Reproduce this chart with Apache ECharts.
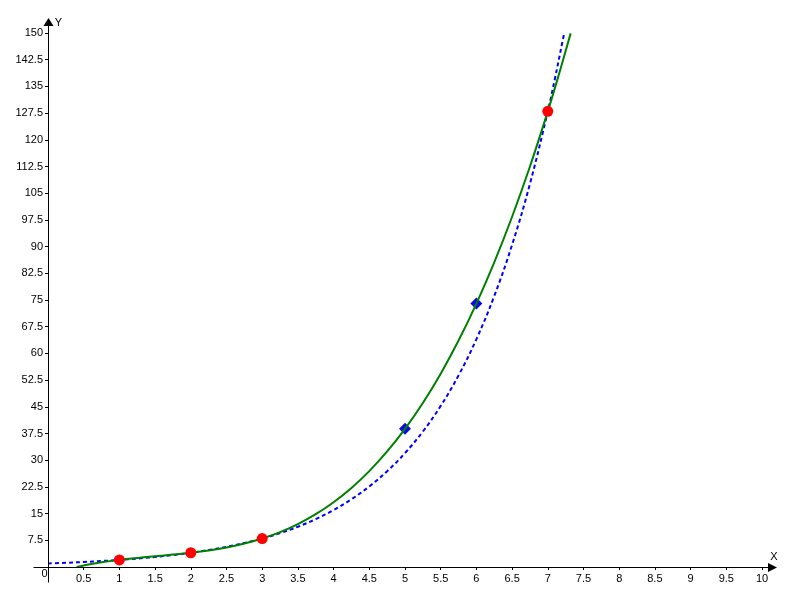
<!DOCTYPE html>
<html><head><meta charset="utf-8">
<script src="https://cdn.jsdelivr.net/npm/echarts@6/dist/echarts.min.js"></script>
<style>html,body{margin:0;padding:0;background:#fff}#c{width:800px;height:600px}</style>
</head><body><div id="c"></div>
<script>
// Red points
const redX = [1, 2, 3, 7];
const redY = [2, 4, 8, 128];
// Blue diamond points
const diamondX = [5, 6];
const diamondY = [38.8, 74];
// Green solid curve samples
const greenX = [0.4, 0.5, 0.75, 1, 1.25, 1.5, 1.75, 2, 2.25, 2.5, 2.75, 3, 3.25, 3.5, 3.75, 4, 4.25, 4.5, 4.75, 5, 5.25, 5.5, 5.75, 6, 6.25, 6.5, 6.75, 7, 7.15, 7.32];
const greenY = [0.01, 0.44, 1.32, 2, 2.54, 3.01, 3.48, 4, 4.65, 5.49, 6.58, 8, 9.8, 12.06, 14.84, 18.2, 22.21, 26.94, 32.45, 38.8, 46.07, 54.31, 63.61, 74, 85.57, 98.39, 112.5, 128, 137.98, 149.9];
// Blue dashed curve samples
const blueX = [0, 0.25, 0.5, 0.75, 1, 1.25, 1.5, 1.75, 2, 2.25, 2.5, 2.75, 3, 3.25, 3.5, 3.75, 4, 4.25, 4.5, 4.75, 5, 5.25, 5.5, 5.75, 6, 6.25, 6.5, 6.75, 7, 7.1, 7.2, 7.23];
const blueY = [1, 1.19, 1.41, 1.68, 2, 2.38, 2.83, 3.36, 4, 4.76, 5.66, 6.73, 8, 9.51, 11.31, 13.45, 16, 19.03, 22.63, 26.91, 32, 38.05, 45.25, 53.82, 64, 76.11, 90.51, 107.63, 128, 137.19, 147.03, 150];
// Axis settings
const xMin = 0, xMax = 10, xStep = 0.5;
const yMin = 0, yMax = 150, yStep = 7.5;

const zip = (a, b) => a.map((v, i) => [v, b[i]]);
const font = "'Liberation Sans', Arial, sans-serif";
const chart = echarts.init(document.getElementById('c'));

const baseX = {type:'value', min:xMin, max:xMax, interval:xStep, splitLine:{show:false}, axisLine:{show:false}};
const baseY = {type:'value', min:yMin, max:yMax, interval:yStep, splitLine:{show:false}, axisLine:{show:false}};

chart.setOption({
  animation:false,
  backgroundColor:'#fff',
  grid:{left:48, right:38, top:33, bottom:33},
  xAxis:[
    Object.assign({}, baseX, {
      axisTick:{show:true, length:3, lineStyle:{color:'#000'}},
      axisLabel:{margin:6, color:'#000', fontSize:11, fontFamily:font, formatter:v => v === 0 ? '' : String(v)}
    }),
    Object.assign({}, baseX, {
      axisTick:{show:true, inside:true, length:3, lineStyle:{color:'#000'}},
      axisLabel:{show:false}
    })
  ],
  yAxis:[
    Object.assign({}, baseY, {
      axisTick:{show:true, length:3, lineStyle:{color:'#000'}},
      axisLabel:{margin:5, color:'#000', fontSize:11, fontFamily:font, formatter:v => v === 0 ? '' : String(v)}
    }),
    Object.assign({}, baseY, {
      axisTick:{show:true, inside:true, length:3, lineStyle:{color:'#000'}},
      axisLabel:{show:false}
    })
  ],
  series:[
    {type:'line', data:zip(blueX, blueY), smooth:0.4, showSymbol:false, z:2,
     lineStyle:{color:'#0000ff', width:2, type:[4,3]}},
    {type:'scatter', data:zip(diamondX, diamondY), symbol:'diamond', symbolSize:12, z:3,
     itemStyle:{color:'#0a0ae6', opacity:1}},
    {type:'line', data:zip(greenX, greenY), smooth:0.4, showSymbol:false, z:4,
     lineStyle:{color:'#008000', width:2}},
    {type:'scatter', data:zip(redX, redY), symbol:'circle', symbolSize:11, z:5,
     itemStyle:{color:'#ff0000', opacity:1}}
  ]
});

const o = chart.convertToPixel({gridIndex:0}, [xMin, yMin]);
const px = chart.convertToPixel({gridIndex:0}, [xMax, yMin]);
const py = chart.convertToPixel({gridIndex:0}, [xMin, yMax]);
const ox = Math.round(o[0]) + 0.5, oy = Math.round(o[1]) + 0.5;
const ex = Math.round(px[0]), ty = Math.round(py[1]);
chart.setOption({
  graphic:[
    {type:'line', shape:{x1:ox-15, y1:oy, x2:ex+8, y2:oy}, style:{stroke:'#000', lineWidth:1}, z:10},
    {type:'polygon', shape:{points:[[ex+6, oy-4.5],[ex+15, oy],[ex+6, oy+4.5]]}, style:{fill:'#000'}, z:10},
    {type:'line', shape:{x1:ox, y1:oy+15, x2:ox, y2:ty-8}, style:{stroke:'#000', lineWidth:1}, z:10},
    {type:'polygon', shape:{points:[[ox-5, ty-7],[ox, ty-15],[ox+5, ty-7]]}, style:{fill:'#000'}, z:10},
    {type:'text', x:ex+12, y:oy-11, style:{text:'X', fill:'#000', font:"11px " + font, align:'center', verticalAlign:'middle'}, z:10},
    {type:'text', x:ox+10, y:ty-10, style:{text:'Y', fill:'#000', font:"11px " + font, align:'center', verticalAlign:'middle'}, z:10},
    {type:'text', x:ox-4, y:oy+6, style:{text:'0', fill:'#000', font:"11px " + font, align:'center', verticalAlign:'middle'}, z:10}
  ]
});
</script></body></html>
